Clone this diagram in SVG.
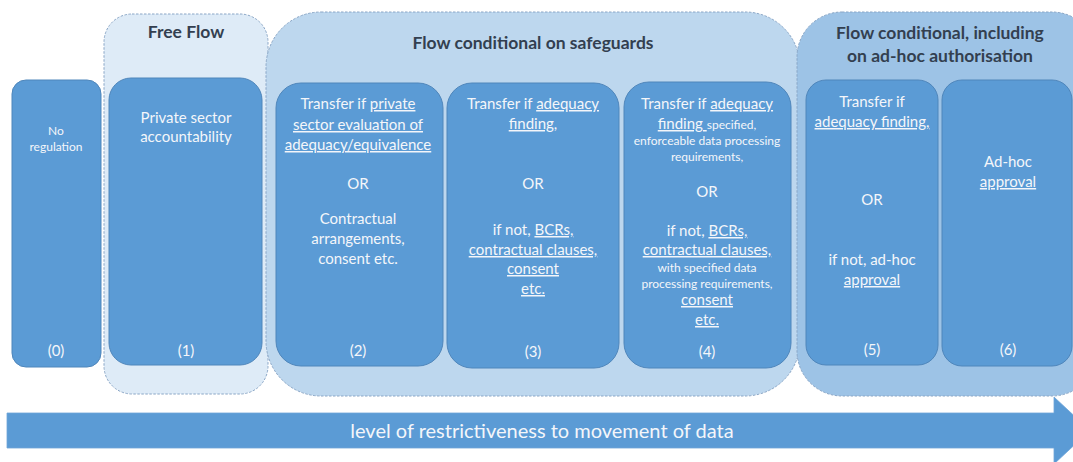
<svg xmlns="http://www.w3.org/2000/svg" width="1073" height="462" viewBox="0 0 1073 462">
<style>
.cont{stroke:#8aa6c6;stroke-width:1;stroke-dasharray:2.5,1.5}
.node{fill:#5b9bd5;stroke:#4f86bb;stroke-width:1}
.t{font-family:Lato,"Liberation Sans",sans-serif;fill:#f4f6fa;text-anchor:middle;font-size:15px}
.s{font-size:12px}
.h{font-family:Lato,"Liberation Sans",sans-serif;fill:#333f50;text-anchor:middle;font-size:17.5px;font-weight:bold}
.u{text-decoration:underline}
</style>
<rect width="1073" height="462" fill="#ffffff"/>
<g id="group-free-flow">
<rect class="cont" x="104" y="14" width="164" height="380" rx="28" fill="#deebf7"/>
<text class="h" x="186" y="38">Free Flow</text>
</g>
<g id="group-safeguards">
<rect class="cont" x="266" y="12" width="534" height="384" rx="55" fill="#bdd7ee"/>
<text class="h" x="533" y="49">Flow conditional on safeguards</text>
</g>
<g id="group-adhoc">
<rect class="cont" x="797" y="12" width="300" height="384" rx="45" fill="#9dc3e6"/>
<text class="h" x="940" y="39">Flow conditional, including</text>
<text class="h" x="940" y="62">on ad-hoc authorisation</text>
</g>
<g id="node-0">
<rect class="node" x="12" y="80" width="89" height="287" rx="14"/>
<text class="t s" x="56" y="135">No</text>
<text class="t s" x="56" y="151">regulation</text>
<text class="t" x="56" y="356">(0)</text>
</g>
<g id="node-1">
<rect class="node" x="109" y="78" width="153" height="287" rx="22"/>
<text class="t" x="186" y="123">Private sector</text>
<text class="t" x="186" y="142">accountability</text>
<text class="t" x="186" y="356">(1)</text>
</g>
<g id="node-2">
<rect class="node" x="276" y="83" width="167" height="283" rx="25"/>
<text class="t" x="358" y="109">Transfer if <tspan class="u">private</tspan></text>
<text class="t u" x="358" y="130">sector evaluation of</text>
<text class="t u" x="358" y="150">adequacy/equivalence</text>
<text class="t" x="358" y="189">OR</text>
<text class="t" x="358" y="224">Contractual</text>
<text class="t" x="358" y="244">arrangements,</text>
<text class="t" x="358" y="264">consent etc.</text>
<text class="t" x="358" y="356">(2)</text>
</g>
<g id="node-3">
<rect class="node" x="447" y="83" width="172" height="285" rx="25"/>
<text class="t" x="533" y="109">Transfer if <tspan class="u">adequacy</tspan></text>
<text class="t" x="533" y="129"><tspan class="u">finding</tspan>,</text>
<text class="t" x="533" y="189">OR</text>
<text class="t" x="533" y="235">if not, <tspan class="u">BCRs,</tspan></text>
<text class="t u" x="533" y="255">contractual clauses,</text>
<text class="t u" x="533" y="274">consent</text>
<text class="t u" x="533" y="294">etc.</text>
<text class="t" x="533" y="357">(3)</text>
</g>
<g id="node-4">
<rect class="node" x="624" y="82" width="167" height="286" rx="25"/>
<text class="t" x="707" y="109">Transfer if <tspan class="u">adequacy</tspan></text>
<text class="t" x="707" y="129"><tspan class="u">finding </tspan> <tspan class="s">specified,</tspan></text>
<text class="t s" x="707" y="145">enforceable data processing</text>
<text class="t s" x="707" y="161">requirements,</text>
<text class="t" x="707" y="197">OR</text>
<text class="t" x="707" y="236">if not, <tspan class="u">BCRs,</tspan></text>
<text class="t u" x="707" y="255">contractual clauses,</text>
<text class="t s" x="707" y="272">with specified data</text>
<text class="t s" x="707" y="288">processing requirements,</text>
<text class="t u" x="707" y="305">consent</text>
<text class="t u" x="707" y="325">etc.</text>
<text class="t" x="707" y="357">(4)</text>
</g>
<g id="node-5">
<rect class="node" x="806" y="80" width="132" height="285" rx="20"/>
<text class="t" x="872" y="107">Transfer if</text>
<text class="t" x="872" y="127"><tspan class="u">adequacy finding,</tspan></text>
<text class="t" x="872" y="205">OR</text>
<text class="t" x="872" y="265">if not, ad-hoc</text>
<text class="t u" x="872" y="285">approval</text>
<text class="t" x="872" y="355">(5)</text>
</g>
<g id="node-6">
<rect class="node" x="942" y="80" width="130" height="286" rx="20"/>
<text class="t" x="1008" y="167">Ad-hoc</text>
<text class="t u" x="1008" y="187">approval</text>
<text class="t" x="1008" y="355">(6)</text>
</g>
<g id="connectors">
<polygon points="7,413 1054,413 1054,397 1090,430.5 1054,464 1054,448 7,448" fill="#5b9bd5" stroke="#6fa5d8" stroke-width="0.8"/>
<text class="t" x="542" y="438" style="font-size:20px">level of restrictiveness to movement of data</text>
</g>
</svg>
